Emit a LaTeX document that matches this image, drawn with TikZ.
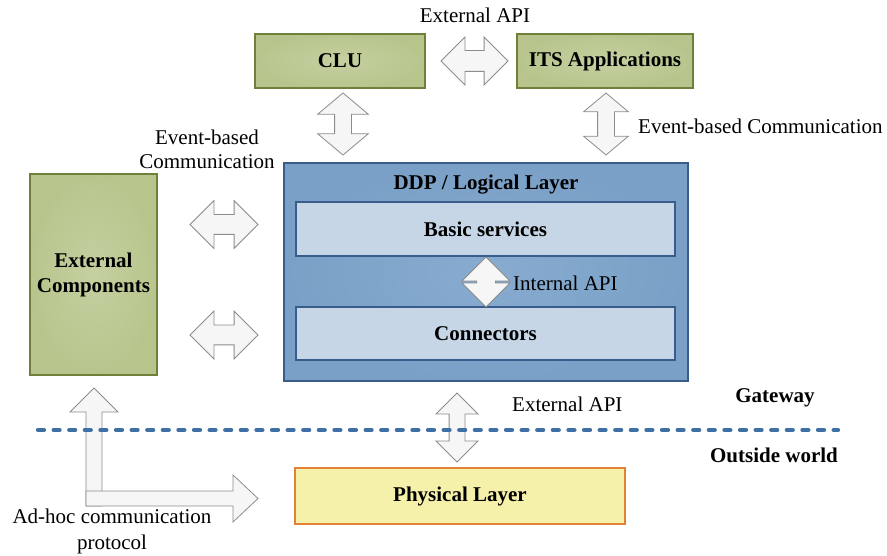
\documentclass[tikz,border=0pt]{standalone}
\usepackage{fontspec}
\setmainfont{Liberation Serif}
\usetikzlibrary{shapes.arrows}

\definecolor{greenfill}{RGB}{183,197,141}
\definecolor{greenlite}{RGB}{196,208,160}
\definecolor{greenline}{RGB}{110,128,58}
\definecolor{ddpfill}{RGB}{122,160,199}
\definecolor{ddplite}{RGB}{136,172,208}
\definecolor{ddpline}{RGB}{56,93,138}
\definecolor{subfill}{RGB}{198,214,231}
\definecolor{physfill}{RGB}{246,241,170}
\definecolor{physline}{RGB}{226,130,52}
\definecolor{arrowfill}{RGB}{246,246,246}
\definecolor{arrowline}{RGB}{140,140,140}
\definecolor{gatewayline}{RGB}{62,112,166}

% invisible strut that sets the shaft width of a block arrow
\newcommand{\shaft}[1]{\rule{0pt}{#1}}

\begin{document}
\begin{tikzpicture}[x=1pt,y=-1pt,
  every node/.style={font=\fontsize{21}{25}\selectfont},
  boldtext/.style={font=\fontsize{21}{25}\selectfont\bfseries},
  greenbox/.style={draw=greenline,line width=1.8pt,inner color=greenlite,outer color=greenfill,
    inner sep=0pt,minimum height=54pt,boldtext},
  ddpbox/.style={draw=ddpline,line width=1.8pt,inner color=ddplite,outer color=ddpfill,inner sep=0pt},
  subbox/.style={draw=ddpline,line width=1.4pt,fill=subfill,inner sep=0pt,
    minimum width=379pt,minimum height=54pt,boldtext},
  physbox/.style={draw=physline,line width=1.8pt,fill=physfill,inner sep=0pt,boldtext},
  blockarrow/.style={shape=double arrow,draw=arrowline,fill=arrowfill,line width=0.8pt,
    inner sep=0pt,double arrow tip angle=90},
  flatarrow/.style={draw=arrowline,fill=arrowfill,line width=0.8pt,line join=miter}]
\useasboundingbox (0,0) rectangle (887,556);

% boxes
\node[greenbox,minimum width=170pt] (clu) at (340,61) {CLU};
\node[greenbox,minimum width=176pt] (its) at (605,61) {ITS Applications};
\node[greenbox,minimum width=127pt,minimum height=201pt,align=center] (ext) at (93.5,274.5) {External\\Components};
\node[ddpbox,minimum width=404pt,minimum height=218pt] (ddp) at (486,272) {};
\node[boldtext] (ddptitle) at (486,185) {DDP / Logical Layer};
\node[subbox] (basic) at (485.5,229) {Basic services};
\node[subbox,minimum height=53pt] (conn) at (485.5,333.5) {Connectors};
\node[physbox,minimum width=330pt,minimum height=56pt] (phys) at (460,496) {Physical Layer};

% block arrows
\node[blockarrow,minimum height=67pt,double arrow head extend=13.5pt] (apitop) at (474.5,61) {\shaft{20pt}};
\node[blockarrow,rotate=90,minimum height=62pt,double arrow head extend=17pt,double arrow tip angle=100] (cludown) at (343,124) {\shaft{16pt}};
\node[blockarrow,rotate=90,minimum height=62pt,double arrow head extend=14pt,double arrow tip angle=100] (itsdown) at (606,124) {\shaft{16pt}};
\node[blockarrow,minimum height=68pt,double arrow head extend=14pt] (extup) at (224,224.5) {\shaft{19pt}};
\node[blockarrow,minimum height=68pt,double arrow head extend=14pt] (extlow) at (224,335) {\shaft{19pt}};
\node[blockarrow,rotate=90,minimum height=50pt,double arrow head extend=14.5pt] (intarrow) at (486,282) {\shaft{18pt}};
\node[blockarrow,rotate=90,minimum height=69pt,double arrow head extend=13pt] (apilow) at (457,427.5) {\shaft{15pt}};

% ad-hoc arrow: up, then right
\draw[flatarrow] (86,506) -- (86,412) -- (70,412) -- (94,388) -- (118,412) -- (102,412) -- (102,506) -- cycle;
\draw[flatarrow] (86,491) -- (233,491) -- (233,475) -- (258,498.5) -- (233,522) -- (233,506) -- (86,506) -- cycle;

% gateway line
\draw[gatewayline,line width=4.2pt,line cap=round,dash pattern=on 6pt off 9.6pt] (38,430) -- (838,430);

% labels
\node (apitoplabel) at (475,15) {External API};
\node[align=center,font=\fontsize{21}{24.5}\selectfont] (evleft) at (207,149.5) {Event-based\\Communication};
\node[anchor=west,inner sep=0pt] (evright) at (638,126) {Event-based Communication};
\node[anchor=west,inner sep=0pt] (intlabel) at (513,283) {Internal API};
\node[anchor=west,inner sep=0pt] (apilowlabel) at (512,404) {External API};
\node[boldtext] (gateway) at (775,398) {Gateway};
\node[boldtext] (outside) at (774,455) {Outside world};
\node[align=center,font=\fontsize{21}{26}\selectfont] (adhoc) at (112,531) {Ad-hoc communication\\protocol};
\end{tikzpicture}
\end{document}
